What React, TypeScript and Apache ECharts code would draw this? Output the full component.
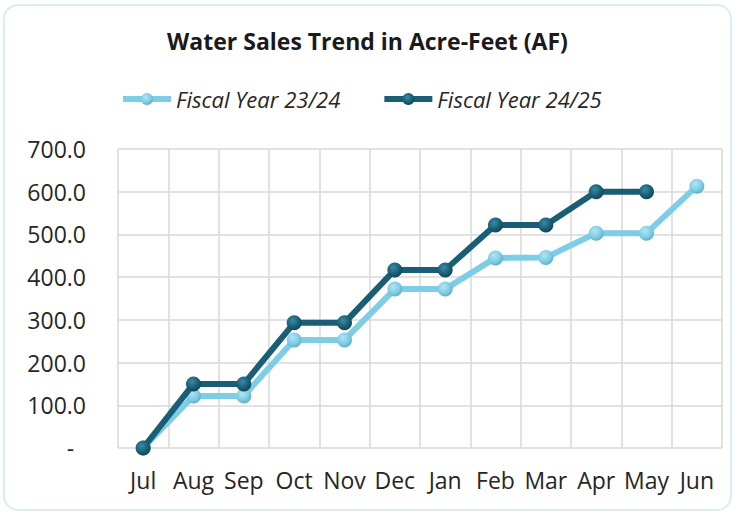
import React, { useEffect, useRef } from "react";
import * as echarts from "echarts";

const months = ["Jul", "Aug", "Sep", "Oct", "Nov", "Dec", "Jan", "Feb", "Mar", "Apr", "May", "Jun"];
const fy2324 = [0, 122, 122, 253, 253, 372, 372, 445, 446, 503, 503, 613];
const fy2425 = [0, 150, 150, 293, 293, 417, 417, 522, 522, 600, 600];
const seriesNames = ["Fiscal Year 23/24", "Fiscal Year 24/25"];

const FONT = "'Open Sans', 'Noto Sans', sans-serif";

function ball(light: string, base: string, dark: string) {
  return new echarts.graphic.RadialGradient(0.4, 0.35, 0.7, [
    { offset: 0, color: light },
    { offset: 0.6, color: base },
    { offset: 1, color: dark },
  ]);
}

export default function App() {
  const ref = useRef<HTMLDivElement>(null);
  useEffect(() => {
    const chart = echarts.init(ref.current!, null, { renderer: "svg" });
    chart.setOption({
      animation: false,
      backgroundColor: "#ffffff",
      graphic: [
        {
          type: "rect",
          shape: { x: 4, y: 5, width: 727, height: 505, r: 14 },
          style: { fill: "none", stroke: "#dcecf4", lineWidth: 2 },
          silent: true,
        },
      ],
      title: {
        text: "Water Sales Trend in Acre-Feet (AF)",
        left: "center",
        top: 24,
        textStyle: { fontFamily: FONT, fontWeight: "bold", fontSize: 23, color: "#1a1a1a" },
      },
      legend: {
        top: 83,
        left: 115,
        itemWidth: 48,
        itemHeight: 15,
        itemGap: 41,
        lineStyle: { width: 6 },
        textStyle: { fontFamily: FONT, fontStyle: "italic", fontSize: 22, color: "#262626" },
        data: seriesNames,
      },
      grid: { left: 118, right: 13, top: 149, bottom: 65, containLabel: false },
      xAxis: {
        type: "category",
        data: months,
        boundaryGap: true,
        axisLine: { show: false },
        axisTick: { show: false },
        splitLine: { show: true, interval: 0, lineStyle: { color: "#d9d9d9", width: 1.5 } },
        axisLabel: { interval: 0, fontFamily: FONT, fontSize: 23, color: "#262626", margin: 20 },
      },
      yAxis: {
        type: "value",
        min: 0,
        max: 700,
        interval: 100,
        axisLine: { show: false },
        axisTick: { show: false },
        splitLine: { show: true, lineStyle: { color: "#d9d9d9", width: 1.5 } },
        axisLabel: {
          fontFamily: FONT,
          fontSize: 23,
          color: "#262626",
          margin: 32,
          formatter: (v: number) => (v === 0 ? "-  " : v.toFixed(1)),
        },
      },
      series: [
        {
          name: seriesNames[0],
          type: "line",
          data: fy2324,
          symbol: "circle",
          symbolSize: 15,
          lineStyle: { color: "#7dcde6", width: 6 },
          itemStyle: { color: ball("#b4e3f2", "#7dcde6", "#5aaac4") },
          z: 2,
        },
        {
          name: seriesNames[1],
          type: "line",
          data: fy2425,
          symbol: "circle",
          symbolSize: 15,
          lineStyle: { color: "#1a5e76", width: 6 },
          itemStyle: { color: ball("#3a8aa4", "#1a5e76", "#0e4254") },
          z: 3,
        },
      ],
    });
    return () => chart.dispose();
  }, []);
  return (
    <div
      ref={ref}
      style={{ position: "fixed", left: 0, top: 0, width: 735, height: 513 }}
    />
  );
}
